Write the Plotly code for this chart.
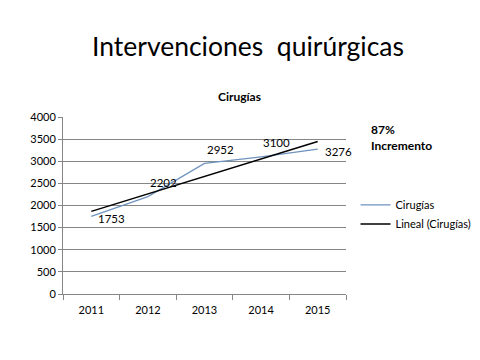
import numpy as np
import plotly.graph_objects as go

years = ["2011", "2012", "2013", "2014", "2015"]
cirugias = [1753, 2202, 2952, 3100, 3276]
label_pos = ["mid", "top", "top", "top", "mid"]

xi = np.arange(1, len(years) + 1)
slope, intercept = np.polyfit(xi, cirugias, 1)
trend = (slope * xi + intercept).tolist()

font = "Lato, Open Sans, sans-serif"
fig = go.Figure()
fig.add_trace(go.Scatter(x=years, y=cirugias, mode="lines", name="Cirugías",
                         line=dict(color="#6f93bd", width=1.3)))
fig.add_trace(go.Scatter(x=years, y=trend, mode="lines", name="Lineal (Cirugías)",
                         line=dict(color="#000000", width=1.5)))

for i, (v, p) in enumerate(zip(cirugias, label_pos)):
    fig.add_annotation(x=i, y=v, text=str(v), showarrow=False,
                       xanchor="left", yanchor="middle", xshift=5 if p == "mid" else 0,
                       yshift=-2 if p == "mid" else 14,
                       font=dict(family=font, size=11.5, color="#000"))

fig.add_annotation(xref="paper", yref="paper", x=1.081, y=0.985, text="<b>87%<br>Incremento</b>",
                   showarrow=False, xanchor="left", yanchor="top", align="left",
                   font=dict(family=font, size=12, color="#000"))
fig.add_annotation(xref="paper", yref="paper", x=0.625, y=1.06, text="<b>Cirugías</b>",
                   showarrow=False, xanchor="center", yanchor="bottom",
                   font=dict(family=font, size=12, color="#000"))

fig.update_layout(
    width=480, height=360,
    margin=dict(l=55, r=141, t=109, b=74),
    paper_bgcolor="white", plot_bgcolor="white",
    title=dict(text="Intervenciones  quirúrgicas", x=0.5, xanchor="center",
               y=0.892, yanchor="middle", font=dict(family=font, size=26.5, color="#000")),
    showlegend=True,
    legend=dict(x=1.03, y=0.585, xanchor="left", yanchor="top", itemwidth=30,
                font=dict(family=font, size=11, color="#000"), tracegroupgap=0,
                bgcolor="rgba(0,0,0,0)"),
    xaxis=dict(type="category", range=[-0.5, len(years) - 0.5], autorange=False,
               showline=True, linecolor="#868686", ticks="outside",
               tickson="boundaries", ticklen=5, tickcolor="#868686", showgrid=False,
               tickangle=0, ticklabelstandoff=6,
               tickfont=dict(family=font, size=11, color="#000")),
    yaxis=dict(range=[0, 4000], dtick=500, showline=True, linecolor="#868686",
               ticks="outside", ticklen=4, tickcolor="#868686", gridcolor="#868686",
               gridwidth=1, zeroline=False,
               tickfont=dict(family=font, size=11, color="#000")),
)
fig.write_html("out.html")
